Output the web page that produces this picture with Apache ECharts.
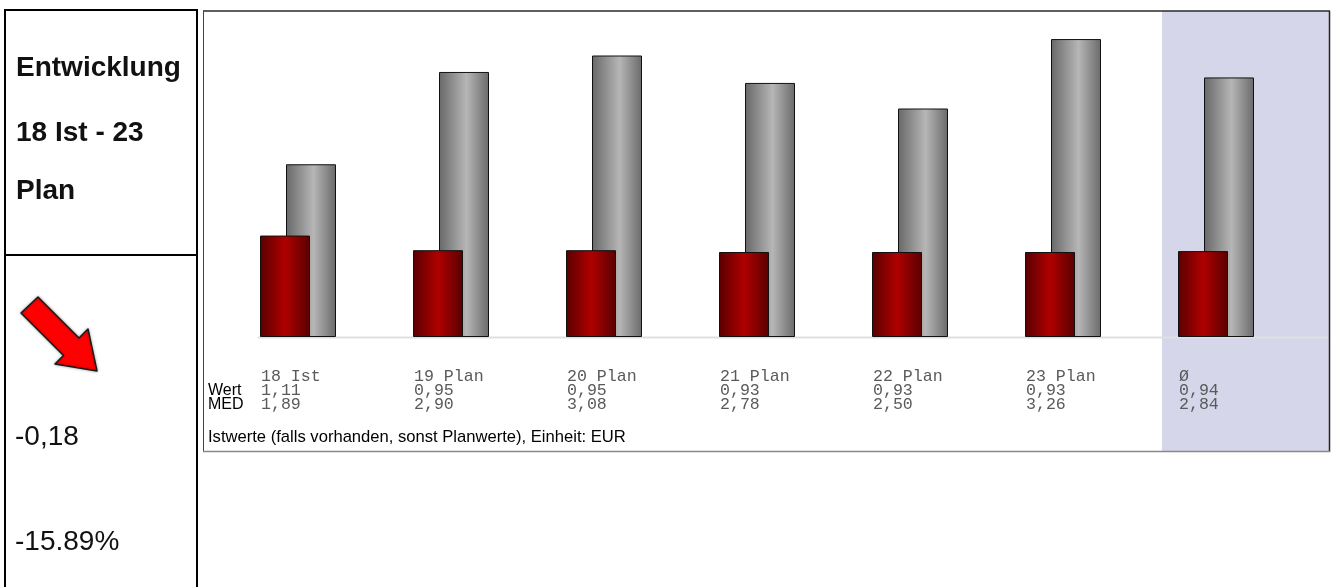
<!DOCTYPE html>
<html>
<head>
<meta charset="utf-8">
<script src="https://cdn.jsdelivr.net/npm/echarts@6/dist/echarts.min.js"></script>
<style>
html,body{margin:0;padding:0;background:#fff;}
#chart{width:1332px;height:587px;}
</style>
</head>
<body>
<div id="chart"></div>
<script>
// ---- data ----
var categories = ['18 Ist', '19 Plan', '20 Plan', '21 Plan', '22 Plan', '23 Plan', '\u00d8'];
var wertValues = [1.11, 0.95, 0.95, 0.93, 0.93, 0.93, 0.94];
var medValues  = [1.89, 2.90, 3.08, 2.78, 2.50, 3.26, 2.84];
var panelTitleLines = ['Entwicklung', '18 Ist - 23', 'Plan'];
var changeAbs = '-0,18';
var changePct = '-15.89%';
var footerText = 'Istwerte (falls vorhanden, sonst Planwerte), Einheit: EUR';
var rowLabels = ['Wert', 'MED'];

function fmt(v) { return v.toFixed(2).replace('.', ','); }

var sans = "'Liberation Sans', Arial, Helvetica, sans-serif";
var mono = "'Liberation Mono', 'Courier New', monospace";

var chart = echarts.init(document.getElementById('chart'), null, {renderer: 'canvas'});

var redGrad = new echarts.graphic.LinearGradient(0, 0, 1, 0, [
  {offset: 0, color: '#5a0000'},
  {offset: 0.5, color: '#b00000'},
  {offset: 1, color: '#5a0000'}
]);
var grayGrad = new echarts.graphic.LinearGradient(0, 0, 1, 0, [
  {offset: 0, color: '#686868'},
  {offset: 0.55, color: '#b6b6b6'},
  {offset: 1, color: '#6a6a6a'}
]);

var option = {
  animation: false,
  backgroundColor: '#ffffff',
  grid: [
    {left: 221.5, width: 1071, top: 12, bottom: 250},
    {left: 184.5, width: 1071, top: 12, bottom: 250}
  ],
  xAxis: [
    {type: 'category', gridIndex: 0, data: categories,
     axisLine: {show: false}, axisTick: {show: false}, axisLabel: {show: false}, splitLine: {show: false}},
    {type: 'category', gridIndex: 1, data: categories,
     axisLine: {show: false}, axisTick: {show: false}, splitLine: {show: false},
     axisLabel: {
       show: true, interval: 0, align: 'left', verticalAlign: 'top', margin: 33,
       fontFamily: mono, fontSize: 16.6, lineHeight: 14, color: '#5a5a5a',
       formatter: function (val, idx) {
         return val + '\n' + fmt(wertValues[idx]) + '\n' + fmt(medValues[idx]);
       }
     }}
  ],
  yAxis: [
    {type: 'value', gridIndex: 0, min: 0, max: 3.556, show: false},
    {type: 'value', gridIndex: 1, min: 0, max: 3.556, show: false}
  ],
  series: [
    {name: 'Wert', type: 'bar', xAxisIndex: 0, yAxisIndex: 0, data: wertValues,
     barWidth: 50, barGap: '-48%', z: 4,
     itemStyle: {color: redGrad, borderColor: '#111', borderWidth: 1}},
    {name: 'MED', type: 'bar', xAxisIndex: 0, yAxisIndex: 0, data: medValues,
     barWidth: 50, barGap: '-48%', z: 3,
     itemStyle: {color: grayGrad, borderColor: '#111', borderWidth: 1}}
  ],
  graphic: [
    // average band
    {type: 'rect', z: -10, silent: true, shape: {x: 1162, y: 11, width: 167, height: 440},
     style: {fill: '#d6d6ea'}},
    // baseline
    {type: 'line', z: -5, silent: true, shape: {x1: 258, y1: 337.5, x2: 1329, y2: 337.5},
     style: {stroke: '#e0e0e0', lineWidth: 2}},
    // chart frame
    {type: 'line', silent: true, shape: {x1: 203, y1: 11, x2: 1330, y2: 11}, style: {stroke: '#2a2a2a', lineWidth: 1.5}},
    {type: 'line', silent: true, shape: {x1: 203.5, y1: 11, x2: 203.5, y2: 452}, style: {stroke: '#444', lineWidth: 1}},
    {type: 'line', silent: true, shape: {x1: 1329.5, y1: 11, x2: 1329.5, y2: 452}, style: {stroke: '#222', lineWidth: 1.5}},
    {type: 'line', silent: true, shape: {x1: 203, y1: 451.5, x2: 1330, y2: 451.5}, style: {stroke: '#888', lineWidth: 1.5}},
    // row labels and footer
    {type: 'text', silent: true, style: {text: rowLabels[0], x: 208, y: 391, font: '16px ' + sans, fill: '#000', verticalAlign: 'middle', textVerticalAlign: 'middle'}},
    {type: 'text', silent: true, style: {text: rowLabels[1], x: 208, y: 405, font: '16px ' + sans, fill: '#000', verticalAlign: 'middle', textVerticalAlign: 'middle'}},
    {type: 'text', silent: true, style: {text: footerText, x: 208, y: 437, font: '16.6px ' + sans, fill: '#000', verticalAlign: 'middle', textVerticalAlign: 'middle'}},
    // left panel frame
    {type: 'rect', silent: true, shape: {x: 5, y: 10, width: 192, height: 600}, style: {fill: 'none', stroke: '#000', lineWidth: 2}},
    {type: 'line', silent: true, shape: {x1: 5, y1: 255, x2: 197, y2: 255}, style: {stroke: '#000', lineWidth: 2}},
    // left panel texts
    {type: 'text', silent: true, style: {text: panelTitleLines[0], x: 16, y: 68, font: 'bold 28px ' + sans, fill: '#111', verticalAlign: 'middle', textVerticalAlign: 'middle'}},
    {type: 'text', silent: true, style: {text: panelTitleLines[1], x: 16, y: 133, font: 'bold 28px ' + sans, fill: '#111', verticalAlign: 'middle', textVerticalAlign: 'middle'}},
    {type: 'text', silent: true, style: {text: panelTitleLines[2], x: 16, y: 191, font: 'bold 28px ' + sans, fill: '#111', verticalAlign: 'middle', textVerticalAlign: 'middle'}},
    {type: 'text', silent: true, style: {text: changeAbs, x: 15, y: 437, font: '28px ' + sans, fill: '#111', verticalAlign: 'middle', textVerticalAlign: 'middle'}},
    {type: 'text', silent: true, style: {text: changePct, x: 15, y: 542, font: '28px ' + sans, fill: '#111', verticalAlign: 'middle', textVerticalAlign: 'middle'}},
    // trend arrow
    {type: 'polygon', silent: true,
     shape: {points: [[38, 297], [79, 338], [88, 329], [97, 371], [55, 364], [63.5, 355.5], [21, 313]]},
     style: {fill: '#ff0000', stroke: '#1a1a1a', lineWidth: 1.5, lineJoin: 'round',
              shadowBlur: 3, shadowColor: 'rgba(0,0,0,0.35)'}}
  ]
};
chart.setOption(option);
</script>
</body>
</html>
